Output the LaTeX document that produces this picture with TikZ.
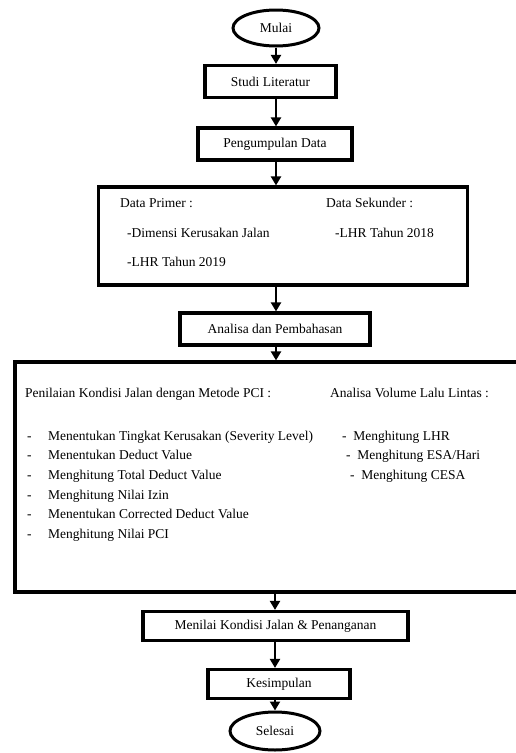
\documentclass[tikz,border=0pt]{standalone}
\usepackage{fontspec}
\setmainfont{Liberation Serif}
\usetikzlibrary{shapes.geometric,arrows.meta}
\begin{document}
\begin{tikzpicture}[x=1pt,y=-1pt,
  box/.style={draw,line width=3.2pt,minimum height=30pt,inner sep=0pt,font=\fontsize{13.5}{15}\selectfont},
  term/.style={draw,ellipse,line width=3pt,inner sep=0pt,font=\fontsize{13.5}{15}\selectfont},
  txt/.style={anchor=west,inner sep=0pt,text height=9.5pt,text depth=3pt,font=\fontsize{13.5}{15}\selectfont},
  flow/.style={line width=2.6pt,-{Triangle[width=10pt,length=9pt]}}]
\useasboundingbox (0,0) rectangle (516,753);
\clip (0,0) rectangle (516,753);
\node[term,minimum width=86pt,minimum height=36pt] (mulai) at (276,28) {Mulai};
\node[box,minimum width=131pt,minimum height=32pt] (studi) at (270.5,81.5) {Studi Literatur};
\node[box,minimum width=154pt,minimum height=32pt] (kumpul) at (275,144) {Pengumpulan Data};
\node[box,minimum width=369pt,minimum height=98pt] (data) at (283,236) {};
\node[txt] (dp) at (120,204) {Data Primer :};
\node[txt] (ds) at (326,204) {Data Sekunder :};
\node[txt] (d1) at (127,234) {-Dimensi Kerusakan Jalan};
\node[txt] (d2) at (335,234) {-LHR Tahun 2018};
\node[txt] (d3) at (127,263) {-LHR Tahun 2019};
\node[box,minimum width=190pt,minimum height=32pt] (analisa) at (275,329) {Analisa dan Pembahasan};
\node[box,minimum width=510pt,minimum height=230pt] (big) at (270,477) {};
\node[txt] (p0) at (25,394) {Penilaian Kondisi Jalan dengan Metode PCI :};
\node[txt] (v0) at (330,394) {Analisa Volume Lalu Lintas :};
\foreach \n/\y/\t in {p1/437/Menentukan Tingkat Kerusakan (Severity Level),
                      p2/456/Menentukan Deduct Value,
                      p3/476/Menghitung Total Deduct Value,
                      p4/496/Menghitung Nilai Izin,
                      p5/515/Menentukan Corrected Deduct Value,
                      p6/535/Menghitung Nilai PCI}{
  \node[txt] (\n d) at (27,\y) {-};
  \node[txt] (\n) at (48,\y) {\t};
}
\node[txt] (v1) at (342,437) {-\ \ Menghitung LHR};
\node[txt] (v2) at (346,456) {-\ \ Menghitung ESA/Hari};
\node[txt] (v3) at (350,476) {-\ \ Menghitung CESA};
\node[box,minimum width=265pt,minimum height=29pt] (menilai) at (275.5,626) {Menilai Kondisi Jalan \& Penanganan};
\node[box,minimum width=142pt,minimum height=29pt] (kesim) at (279,684) {Kesimpulan};
\node[term,minimum width=90pt,minimum height=38pt] (selesai) at (275,731) {Selesai};
\draw[flow] (mulai) -- (mulai|-studi.north);
\draw[flow] (studi.south-|mulai) -- (mulai|-kumpul.north);
\draw[flow] (kumpul.south-|mulai) -- (mulai|-data.north);
\draw[flow] (data.south-|mulai) -- (mulai|-analisa.north);
\draw[flow] (analisa.south-|mulai) -- (mulai|-big.north);
\draw[flow] (big.south-|selesai) -- (selesai|-menilai.north);
\draw[flow] (menilai.south-|selesai) -- (selesai|-kesim.north);
\draw[flow] (kesim.south-|selesai) -- (selesai.north);
\end{tikzpicture}
\end{document}
